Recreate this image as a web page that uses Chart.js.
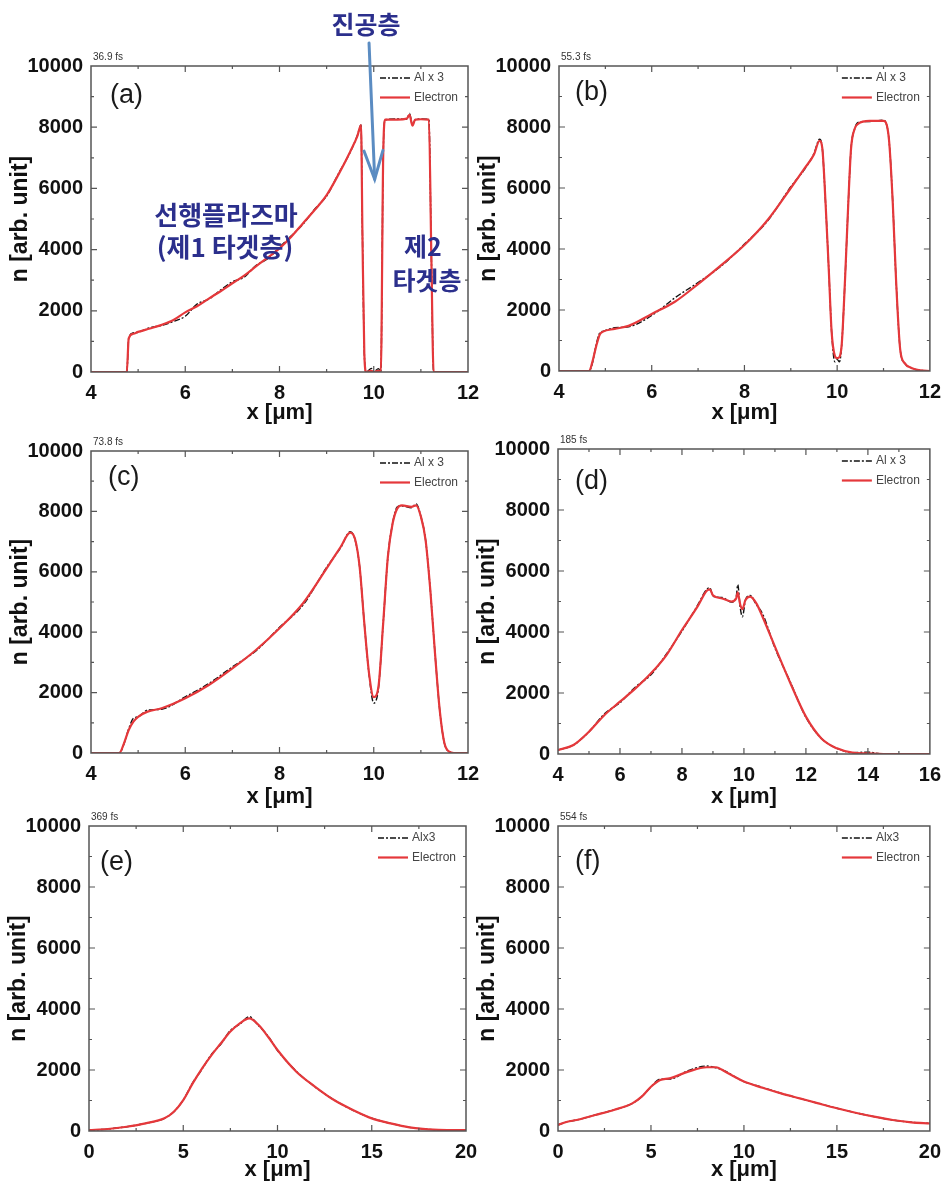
<!DOCTYPE html>
<html><head><meta charset="utf-8">
<script src="https://cdn.jsdelivr.net/npm/chart.js@4.4.1/dist/chart.umd.min.js"></script>
<style>
html,body{margin:0;padding:0;background:#fff;}
#wrap{position:relative;width:950px;height:1195px;overflow:hidden;background:#fff;}
#wrap canvas{position:absolute;left:0;top:0;width:950px;height:1195px;}
.ko{position:absolute;font-family:"Noto Sans CJK KR","Noto Sans CJK SC",sans-serif;font-weight:700;color:#2b2f8c;white-space:nowrap;transform:translate(-50%,-50%);line-height:1;}
</style></head><body>
<div id="wrap">
<canvas id="c0" width="950" height="1195"></canvas>
<canvas id="c1" width="950" height="1195"></canvas>
<canvas id="c2" width="950" height="1195"></canvas>
<canvas id="c3" width="950" height="1195"></canvas>
<canvas id="c4" width="950" height="1195"></canvas>
<canvas id="c5" width="950" height="1195"></canvas>
<div class="ko" style="left:366px;top:23px;font-size:25px">진공층</div>
<div class="ko" style="left:226px;top:214px;font-size:26px">선행플라즈마</div>
<div class="ko" style="left:225px;top:246px;font-size:26px">(제1 타겟층)</div>
<div class="ko" style="left:423px;top:245px;font-size:25px">제2</div>
<div class="ko" style="left:427px;top:279px;font-size:25px">타겟층</div>
</div>
<script>
// ---------- data ----------
const panelLabels = ['(a)','(b)','(c)','(d)','(e)','(f)'];
const timeLabels = ['36.9 fs','55.3 fs','73.8 fs','185 fs','369 fs','554 fs'];
const alLabels = ['Al x 3','Al x 3','Al x 3','Al x 3','Alx3','Alx3'];
const electronLabel = 'Electron';
const xMins = [4,4,4,4,0,0];
const xMaxs = [12,12,12,16,20,20];
const xSteps = [2,2,2,2,5,5];
const xMinorSteps = [1,1,1,1,2.5,2.5];
const yMin = 0, yMax = 10000, yStep = 2000, yMinorStep = 1000;

const aX = [4,4.76,4.8,4.9,5.0,5.25,5.5,5.75,6.0,6.25,6.5,6.75,7.0,7.25,7.5,7.75,8.0,8.25,8.5,8.75,9.0,9.25,9.5,9.65,9.73,9.76,9.8,9.84,9.95,10.0,10.1,10.15,10.2,10.24,10.5,10.7,10.76,10.82,10.88,11.0,11.17,11.22,11.27,12];
const aElectron = [0,0,1100,1250,1310,1420,1540,1700,1950,2150,2400,2640,2900,3150,3450,3740,4040,4420,4860,5300,5780,6450,7200,7700,8070,4500,600,0,40,0,40,0,7000,8250,8250,8280,8400,8050,8250,8260,8250,4000,0,0];
const aAl = [0,0,1100,1280,1300,1450,1520,1650,1820,2220,2380,2680,2950,3100,3480,3700,4080,4450,4830,5330,5750,6480,7180,7720,8070,4500,600,0,120,0,110,0,7000,8240,8270,8260,8450,8080,8240,8270,8250,4000,0,0];

const bX = [4,4.65,4.72,4.8,4.88,4.95,5.2,5.5,6.0,6.5,7.0,7.5,8.0,8.5,9.0,9.3,9.5,9.62,9.68,9.75,9.82,9.88,9.95,10.0,10.05,10.1,10.17,10.24,10.3,10.38,10.45,10.7,11.0,11.05,11.12,11.2,11.27,11.36,11.46,11.6,11.8,12];
const bElectron = [0,0,300,800,1200,1290,1380,1480,1870,2270,2850,3470,4130,4950,6000,6650,7100,7550,7300,5500,3300,1300,500,420,460,900,3000,5500,7300,7950,8100,8200,8200,8150,7550,5500,3000,700,250,100,20,0];
const bAl = [0,0,250,850,1250,1300,1420,1450,1820,2400,2900,3440,4160,4920,6040,6620,7130,7600,7300,5500,3300,1300,300,380,300,900,3000,5500,7300,7950,8150,8180,8220,8150,7550,5500,3000,700,250,100,20,0];

const cX = [4,4.6,4.7,4.8,4.9,5.0,5.2,5.5,6.0,6.5,7.0,7.5,8.0,8.5,9.0,9.3,9.5,9.6,9.7,9.8,9.9,10.0,10.1,10.2,10.3,10.4,10.5,10.6,10.8,10.9,11.0,11.1,11.2,11.3,11.4,11.5,11.6,11.7,12];
const cElectron = [0,0,320,760,1040,1200,1370,1480,1810,2250,2800,3410,4130,4960,6115,6830,7300,7100,6170,4290,2640,1850,2200,4290,6500,7600,8100,8200,8150,8200,7830,7050,5400,3300,1420,320,45,0,0];
const cAl = [0,0,300,800,1150,1200,1420,1450,1860,2300,2850,3380,4160,4900,6150,6800,7330,7080,6170,4290,2600,1650,2150,4290,6500,7600,8150,8180,8120,8250,7830,7050,5400,3300,1420,320,45,0,0];

const dX = [4,4.5,5,5.5,6,6.5,7,7.5,8,8.5,8.8,8.9,9.0,9.3,9.6,9.75,9.8,9.88,9.95,10.05,10.2,10.4,10.6,11,11.5,12,12.5,13,13.5,14,14.5,15,16];
const dElectron = [130,295,730,1280,1715,2150,2645,3245,4065,4830,5350,5400,5200,5100,5000,5100,5300,4900,4750,5050,5160,4940,4500,3520,2320,1225,510,185,45,20,0,0,0];
const dAl = [130,295,730,1320,1680,2200,2600,3280,4030,4870,5400,5450,5180,5130,4980,5150,5550,4800,4500,5050,5200,4900,4600,3480,2350,1200,510,185,45,60,0,0,0];

const eX = [0,1,2,3,4,4.5,5,5.5,6,6.5,7,7.5,8,8.5,9,9.5,10,11,12,13,14,15,16,17,18,19,20];
const eElectron = [30,65,140,250,415,630,1015,1560,2055,2490,2875,3260,3530,3690,3475,3090,2655,1945,1450,1015,690,415,250,120,55,30,30];
const eAl = [30,65,140,250,415,630,1015,1580,2030,2520,2850,3300,3500,3750,3450,3110,2640,1960,1440,1020,680,420,250,120,55,30,30];

const fX = [0,0.5,1,2,3,4,4.5,5,5.5,6,7,8,8.5,9,9.5,10,11,12,13,14,15,16,17,18,19,20];
const fElectron = [200,305,360,525,690,905,1125,1450,1670,1725,1945,2090,2090,1945,1780,1620,1420,1235,1070,905,745,600,470,360,285,250];
const fAl = [200,305,360,525,690,905,1125,1450,1700,1700,1980,2130,2070,1960,1780,1620,1430,1235,1070,905,745,600,470,360,285,250];

const xSets = [aX,bX,cX,dX,eX,fX];
const elSets = [aElectron,bElectron,cElectron,dElectron,eElectron,fElectron];
const alSets = [aAl,bAl,cAl,dAl,eAl,fAl];

// annotation arrow (panel a): tip at data point, tail above chart
const arrowTipX = 10.02, arrowTipY = 6300, arrowTailX = 9.9;

// ---------- layout (page pixels) ----------
const boxes = [
  {l:91, t:66, r:468, b:372, xt:413, lx:19, ly:30},
  {l:559,t:66, r:937, b:371, xt:413, lx:16, ly:27},
  {l:91, t:451,r:468, b:753, xt:797, lx:17, ly:27},
  {l:558,t:449,r:936, b:754, xt:797, lx:17, ly:33},
  {l:89, t:826,r:466, b:1131,xt:1170,lx:11, ly:37},
  {l:558,t:826,r:936, b:1131,xt:1170,lx:17, ly:36}
];
const FONT = '"Liberation Sans", Arial, sans-serif';
const RED = '#e5383b';
const FRAME = '#555555';

const framePlugin = {
  id: 'frame',
  afterDraw(chart, args, o) {
    const {ctx, chartArea: a, scales: {x, y}} = chart;
    ctx.save();
    ctx.strokeStyle = FRAME; ctx.lineWidth = 1.5;
    ctx.strokeRect(a.left, a.top, a.right - a.left, a.bottom - a.top);
    ctx.lineWidth = 1.2;
    const tickSet = (min, max, minor, major, fn) => {
      const n = Math.round((max - min) / minor);
      for (let k = 1; k < n; k++) {
        const v = min + k * minor;
        const r = (v - min) / major;
        const isMajor = Math.abs(r - Math.round(r)) < 1e-6;
        fn(v, isMajor ? 6 : 3);
      }
    };
    ctx.beginPath();
    tickSet(x.min, x.max, o.xMinor, o.xMajor, (v, len) => {
      const p = x.getPixelForValue(v);
      ctx.moveTo(p, a.bottom); ctx.lineTo(p, a.bottom - len);
      ctx.moveTo(p, a.top); ctx.lineTo(p, a.top + len);
    });
    tickSet(y.min, y.max, o.yMinor, o.yMajor, (v, len) => {
      const p = y.getPixelForValue(v);
      ctx.moveTo(a.left, p); ctx.lineTo(a.left + len, p);
      ctx.moveTo(a.right, p); ctx.lineTo(a.right - len, p);
    });
    ctx.stroke();
    ctx.restore();
  }
};

const textPlugin = {
  id: 'panelText',
  afterDraw(chart, args, o) {
    const {ctx, chartArea: a} = chart;
    ctx.save();
    // time label
    ctx.fillStyle = '#333';
    ctx.font = '10px ' + FONT;
    ctx.textAlign = 'left'; ctx.textBaseline = 'alphabetic';
    ctx.fillText(o.time, a.left + 2, a.top - 6);
    // panel label
    ctx.fillStyle = '#1a1a1a';
    ctx.font = '27px ' + FONT;
    ctx.textBaseline = 'middle';
    ctx.fillText(o.label, a.left + o.lx, a.top + o.ly);
    // legend
    const ds = chart.data.datasets;
    const order = [1, 0];
    order.forEach((di, row) => {
      const d = ds[di];
      const yy = a.top + 12 + row * 19.5;
      ctx.beginPath();
      ctx.strokeStyle = d.borderColor;
      ctx.lineWidth = d.borderWidth;
      ctx.setLineDash(d.borderDash || []);
      ctx.moveTo(a.right - 88, yy); ctx.lineTo(a.right - 58, yy);
      ctx.stroke();
      ctx.setLineDash([]);
      ctx.fillStyle = '#444';
      ctx.font = '12px ' + FONT;
      ctx.textBaseline = 'middle';
      ctx.fillText(d.label, a.right - 54, yy);
    });
    ctx.restore();
  }
};

const arrowPlugin = {
  id: 'vacArrow',
  afterDraw(chart) {
    const {ctx, chartArea: a, scales: {x, y}} = chart;
    const tx = x.getPixelForValue(arrowTipX), ty = y.getPixelForValue(arrowTipY);
    const sx = x.getPixelForValue(arrowTailX), sy = a.top - 23;
    const ang = Math.atan2(ty - sy, tx - sx);
    ctx.save();
    ctx.strokeStyle = '#5b8cc2'; ctx.lineWidth = 3; ctx.lineCap = 'round';
    ctx.beginPath(); ctx.moveTo(sx, sy); ctx.lineTo(tx, ty); ctx.stroke();
    const hl = 30, hw = 0.32;
    ctx.beginPath();
    ctx.moveTo(tx - hl * Math.cos(ang - hw), ty - hl * Math.sin(ang - hw));
    ctx.lineTo(tx, ty);
    ctx.lineTo(tx - hl * Math.cos(ang + hw), ty - hl * Math.sin(ang + hw));
    ctx.stroke();
    ctx.restore();
  }
};

function toXY(xs, ys) { return xs.map((v, i) => ({x: v, y: ys[i]})); }

for (let i = 0; i < 6; i++) {
  const box = boxes[i];
  const YW = 85;
  const XH = box.xt + 13 - box.b;
  const tickFont = {family: FONT, size: 20, weight: 'bold'};
  const titleFont = {family: FONT, size: 22, weight: 'bold'};
  const yTitleFont = {family: FONT, size: 23, weight: 'bold'};
  const plugins = [framePlugin, textPlugin];
  if (i === 0) plugins.push(arrowPlugin);
  new Chart(document.getElementById('c' + i), {
    type: 'line',
    data: {
      datasets: [
        {label: electronLabel, data: toXY(xSets[i], elSets[i]), borderColor: RED, borderWidth: 2.2,
         pointRadius: 0, cubicInterpolationMode: 'monotone', fill: false},
        {label: alLabels[i], data: toXY(xSets[i], alSets[i]), borderColor: '#111111', borderWidth: 1.4,
         borderDash: [6, 2, 2, 2], pointRadius: 0, cubicInterpolationMode: 'monotone', fill: false}
      ]
    },
    options: {
      responsive: false, animation: false, events: [],
      layout: {padding: {left: box.l - YW, top: box.t, right: 950 - box.r, bottom: 1195 - box.b - XH}},
      plugins: {
        legend: {display: false}, tooltip: {enabled: false},
        frame: {xMinor: xMinorSteps[i], xMajor: xSteps[i], yMinor: yMinorStep, yMajor: yStep},
        panelText: {time: timeLabels[i], label: panelLabels[i], lx: box.lx, ly: box.ly}
      },
      scales: {
        x: {
          type: 'linear', min: xMins[i], max: xMaxs[i],
          border: {display: false}, grid: {display: false, drawTicks: false},
          ticks: {stepSize: xSteps[i], padding: 9, color: '#111', font: tickFont, maxRotation: 0, autoSkip: false,
                  callback: v => String(v)},
          title: {display: true, text: 'x [μm]', color: '#111', font: titleFont, padding: {top: 0, bottom: 0}},
          afterFit: s => { s.height = XH; }
        },
        y: {
          type: 'linear', min: yMin, max: yMax,
          border: {display: false}, grid: {display: false, drawTicks: false},
          ticks: {stepSize: yStep, padding: 8, color: '#111', font: tickFont, autoSkip: false,
                  callback: v => String(v)},
          title: {display: true, text: 'n [arb. unit]', color: '#111', font: yTitleFont, padding: {top: 1, bottom: 0}},
          afterFit: s => { s.width = YW; }
        }
      }
    },
    plugins
  });
}
</script>
</body></html>
